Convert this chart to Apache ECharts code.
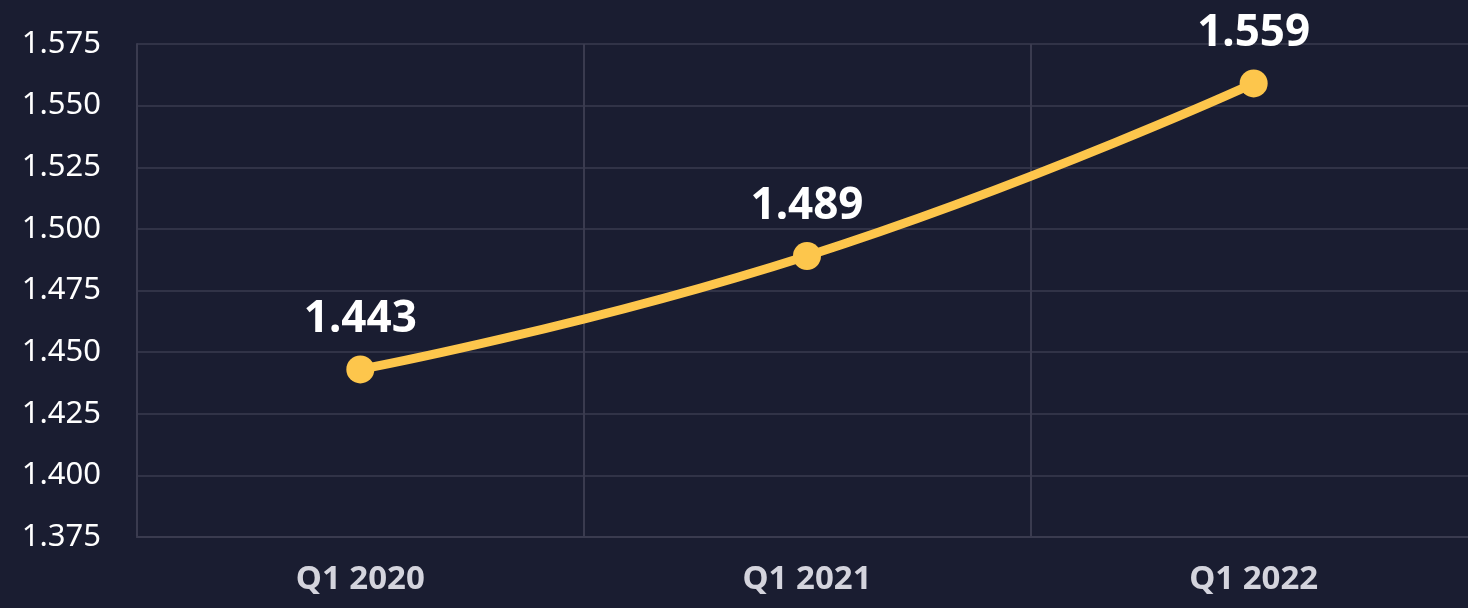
<!DOCTYPE html>
<html>
<head>
<meta charset="utf-8">
<script src="https://cdn.jsdelivr.net/npm/echarts@6/dist/echarts.min.js"></script>
<style>
  html, body { margin: 0; padding: 0; background: #1a1d31; overflow: hidden; }
  #chart { width: 1477px; height: 608px; }
</style>
</head>
<body>
<div id="chart"></div>
<script>
// data
var categories = ['Q1 2020', 'Q1 2021', 'Q1 2022'];
var values = [1.443, 1.489, 1.559];

var myChart = echarts.init(document.getElementById('chart'));

var option = {
    backgroundColor: '#1a1d31',
    animation: false,
    grid: {
        left: 137,
        right: 0,
        top: 44,
        bottom: 71,
        containLabel: false
    },
    xAxis: {
        type: 'category',
        boundaryGap: true,
        data: categories,
        axisLine: { show: true, lineStyle: { color: '#3a3b4f', width: 2 } },
        axisTick: { show: false },
        splitLine: { show: true, lineStyle: { color: '#3a3b4f', width: 2 } },
        axisLabel: {
            color: '#d4d4dd',
            fontFamily: 'Noto Sans',
            fontWeight: 'bold',
            fontSize: 33,
            margin: 26
        }
    },
    yAxis: {
        type: 'value',
        min: 1.375,
        max: 1.575,
        interval: 0.025,
        axisLine: { show: true, lineStyle: { color: '#3a3b4f', width: 2 } },
        axisTick: { show: false },
        splitLine: { show: true, lineStyle: { color: '#3a3b4f', width: 1.5 } },
        axisLabel: {
            color: '#ffffff',
            fontFamily: 'Noto Sans',
            fontSize: 31,
            margin: 36,
            formatter: function(v) {
                return v.toFixed(3);
            }
        }
    },
    series: [{
        type: 'line',
        data: values,
        smooth: true,
        symbol: 'circle',
        symbolSize: 28,
        itemStyle: { color: '#fdc64c' },
        lineStyle: { color: '#fdc64c', width: 9 },
        label: {
            show: true,
            position: 'top',
            distance: 14,
            color: '#ffffff',
            fontFamily: 'Noto Sans',
            fontWeight: 'bold',
            fontSize: 44,
            formatter: function(p) {
                return p.value.toFixed(3);
            }
        }
    }]
};

myChart.setOption(option);
</script>
</body>
</html>
